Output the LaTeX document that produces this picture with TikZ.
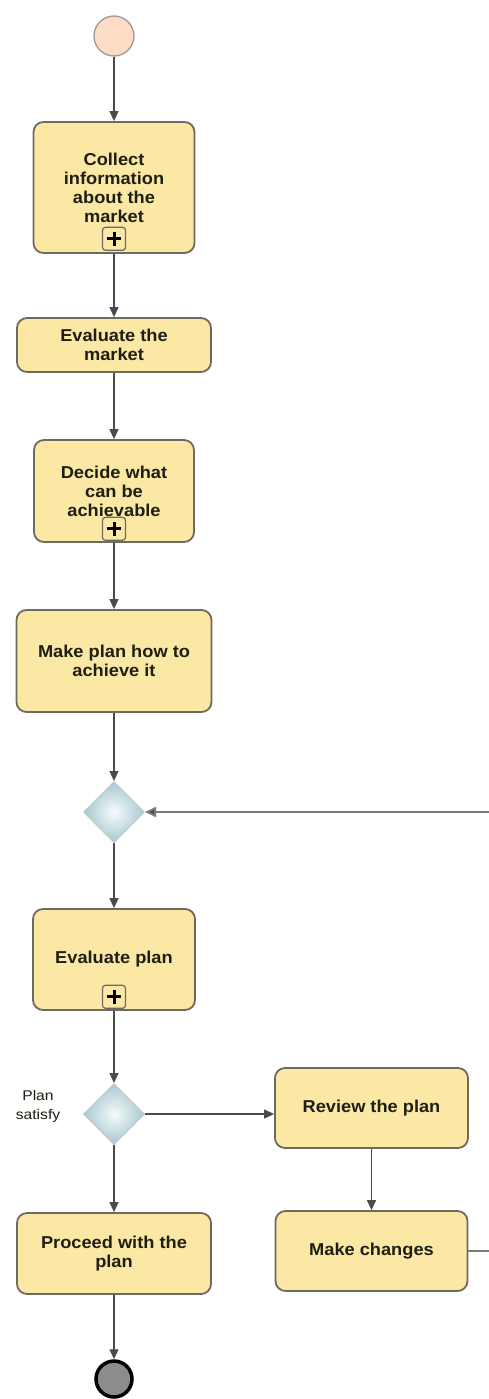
\documentclass[tikz,border=0pt]{standalone}
\usepackage{fontspec}
\usetikzlibrary{shapes.geometric,arrows.meta}
\newfontfamily\boxfont[FakeStretch=1.06]{Liberation Sans Bold}
\newfontfamily\notefont[FakeStretch=1.12]{Liberation Sans}
\definecolor{taskfill}{HTML}{FAE8A4}
\definecolor{taskline}{HTML}{6E6A5E}
\definecolor{flow}{HTML}{4A4A4A}
\definecolor{loopflow}{HTML}{7A7A7A}
\definecolor{gatefill}{HTML}{A6C8D0}
\definecolor{gateline}{HTML}{C2CACC}
\definecolor{startfill}{HTML}{FDDCC6}
\definecolor{startline}{HTML}{A09A96}
\definecolor{endfill}{HTML}{8C8C8C}
\definecolor{textcol}{HTML}{1E1E14}
\begin{document}
\begin{tikzpicture}[x=1pt,y=-1pt,
  task/.style={draw=taskline,line width=1.8pt,fill=taskfill,rounded corners=10pt,
    inner sep=0pt,align=center,text=textcol,font=\boxfont\fontsize{17.2}{19}\selectfont},
  plusbox/.style={draw=taskline,line width=1.2pt,fill=taskfill,rounded corners=3pt,
    minimum size=23pt,inner sep=0pt,anchor=south,
    path picture={\draw[black,line width=3pt]
      ([yshift=-4.5pt]path picture bounding box.north) -- ([yshift=4.5pt]path picture bounding box.south)
      ([xshift=4.5pt]path picture bounding box.west) -- ([xshift=-4.5pt]path picture bounding box.east);}},
  gate/.style={diamond,aspect=1,draw=gateline,line width=1pt,inner sep=0pt,
    inner color=white!90!gatefill,outer color=gatefill,minimum size=61pt},
  flowline/.style={draw=flow,line width=1.2pt,-{Triangle[length=10pt,width=9pt]}},
  loopline/.style={draw=loopflow,line width=1.8pt,-{Triangle[length=11pt,width=10pt,fill=flow]}},
  startev/.style={circle,draw=startline,line width=1.3pt,fill=startfill,minimum size=40pt,inner sep=0pt},
  endev/.style={circle,draw=black,line width=3.5pt,fill=endfill,minimum size=36pt,inner sep=0pt},
  note/.style={align=center,text=textcol,font=\notefont\fontsize{14}{19}\selectfont}
]
\useasboundingbox (0,0) rectangle (489,1399);
\clip (0,0) rectangle (489,1399);
\fill[white] (0,0) rectangle (489,1399);

% events
\node[startev] (start) at (114,36) {};
\node[endev] (finish) at (114,1379) {};

% tasks of the main column
\node[task,minimum width=161pt,minimum height=131pt] (collect) at (114,187.5)
  {Collect\\information\\about the\\market};
\node[plusbox] (pcollect) at ([yshift=3pt]collect.south) {};
\node[task,minimum width=194pt,minimum height=54pt] (evalmkt) at (114,345)
  {Evaluate the\\market};
\node[task,minimum width=160pt,minimum height=102pt] (decide) at (114,491)
  {Decide what\\can be\\achievable};
\node[plusbox] (pdecide) at ([yshift=2pt]decide.south) {};
\node[task,minimum width=195pt,minimum height=102pt] (makeplan) at (114,661)
  {Make plan how to\\achieve it};
\node[gate] (merge) at (114,812) {};
\node[task,minimum width=162pt,minimum height=101pt] (evalplan) at (114,959.5)
  {Evaluate plan};
\node[plusbox] (pevalplan) at ([yshift=2pt]evalplan.south) {};
\node[gate] (satisfy) at (114,1114) {};
\node[note] (satlabel) at (38,1106) {Plan\\satisfy};
\node[task,minimum width=194pt,minimum height=81pt] (proceed) at (114,1253.5)
  {Proceed with the\\plan};

% review branch
\node[task,minimum width=193pt,minimum height=80pt] (review) at (371.5,1108)
  {Review the plan};
\node[task,minimum width=192pt,minimum height=80pt] (changes) at (371.5,1251)
  {Make changes};

% sequence flows
\draw[flowline] (start) -- (collect);
\draw[flowline] (collect) -- (evalmkt);
\draw[flowline] (evalmkt) -- (decide);
\draw[flowline] (decide) -- (makeplan);
\draw[flowline] (makeplan) -- (merge);
\draw[flowline] (merge) -- (evalplan);
\draw[flowline] (evalplan) -- (satisfy);
\draw[flowline] (satisfy) -- (proceed);
\draw[flowline] (satisfy.east) -- (satisfy.east -| review.west);
\draw[flowline] (review) -- (changes);
\draw[flowline] (proceed) -- (finish);
\draw[loopline] (changes.east) -- ++(40,0) |- (merge.east);
\end{tikzpicture}
\end{document}
